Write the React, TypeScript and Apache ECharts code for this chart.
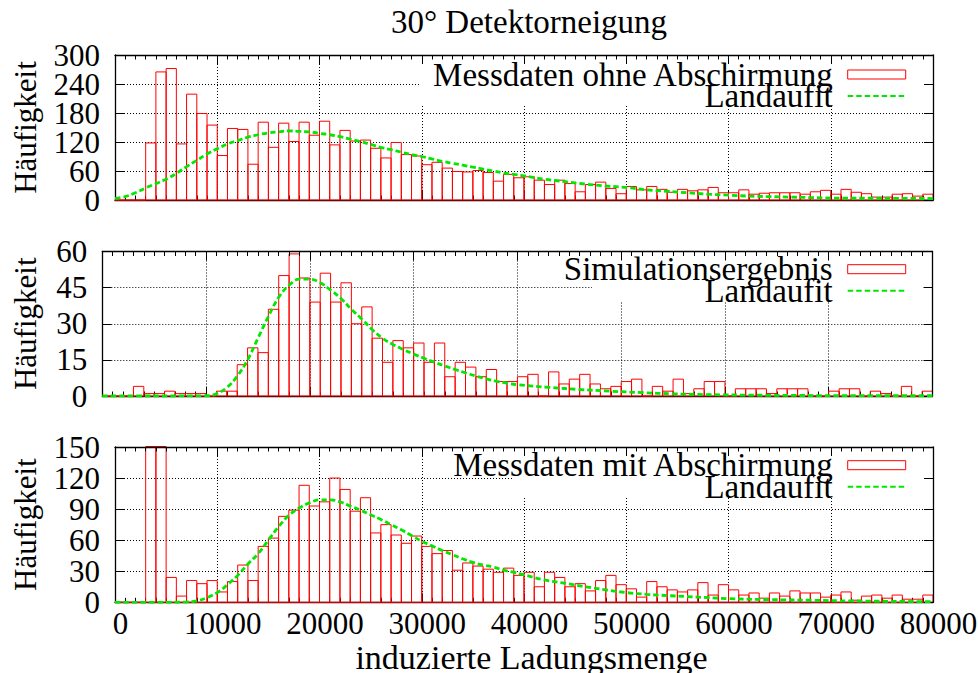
import React, { useEffect, useRef } from 'react';
import * as echarts from 'echarts';

// ---------- data ----------
const BIN_WIDTH = 1000;

// histogram counts, bin i covers [i*1000, (i+1)*1000)
const countsOhne = [
  0, 0, 0, 118, 265, 272, 116, 219, 179, 155,
  92, 148, 146, 74, 161, 109, 159, 121, 161, 134,
  163, 114, 144, 122, 124, 107, 87, 119, 94, 91,
  73, 78, 66, 59, 58, 61, 57, 39, 53, 46,
  48, 41, 32, 41, 34, 17, 32, 37, 24, 13,
  28, 21, 28, 22, 16, 22, 19, 21, 26, 15,
  15, 21, 12, 14, 15, 15, 15, 12, 17, 20,
  12, 22, 16, 13, 6, 6, 12, 13, 8, 12,
];
const countsSim = [
  0, 0, 0, 4, 1, 1, 2, 1, 1, 1,
  0, 2, 2, 13, 20, 18, 36, 50, 59, 49,
  39, 51, 39, 47, 30, 37, 24, 14, 23, 20,
  22, 14, 22, 8, 14, 12, 8, 11, 6, 6,
  8, 9, 0, 10, 5, 7, 9, 5, 3, 4,
  6, 7, 0, 4, 2, 7, 1, 3, 6, 6,
  0, 3, 3, 3, 1, 3, 3, 3, 0, 0,
  2, 3, 3, 0, 2, 1, 0, 4, 0, 2,
];
const countsMit = [
  0, 0, 0, 190, 190, 24, 6, 21, 18, 21,
  10, 20, 36, 21, 54, 62, 83, 89, 113, 93,
  97, 120, 109, 88, 101, 67, 75, 65, 57, 64,
  54, 47, 50, 31, 38, 35, 32, 29, 33, 26,
  29, 15, 29, 24, 15, 18, 11, 21, 26, 17,
  13, 5, 20, 15, 12, 10, 12, 19, 7, 17,
  12, 7, 9, 4, 9, 6, 11, 9, 9, 5,
  7, 10, 2, 6, 7, 4, 7, 3, 3, 7,
];

// Landau fit curves
const fitOhneX = [0, 1000, 2000, 3000, 5000, 6000, 7000, 8000, 9000, 10000, 11000, 12000, 13000, 14000, 15000, 16000, 17000, 18000, 19000, 20000, 21000, 22000, 23000, 24000, 25000, 26000, 27000, 28000, 29000, 30000, 31000, 32000, 33000, 34000, 35000, 36000, 37000, 38000, 39000, 40000, 42000, 44000, 46000, 48000, 50000, 52000, 54000, 56000, 58000, 60000, 62000, 64000, 66000, 68000, 70000, 75000, 80000];
const fitOhneY = [3.5, 7, 15, 25, 43, 55, 69, 82, 95, 106, 116, 123, 130, 135, 139, 141, 143, 142, 141, 138, 135, 131, 126, 121, 115, 109, 104, 99, 94, 90, 85, 80, 76, 72, 68, 64, 60, 56, 53, 50, 43, 38, 33, 29, 26, 21, 18, 15, 12, 10, 8, 7, 6, 5, 4, 3.5, 3];

const fitSimX = [0, 5000, 10000, 11000, 12000, 13000, 14000, 15000, 16000, 17000, 18000, 19000, 20000, 21000, 22000, 23000, 24000, 25000, 26000, 27000, 28000, 29000, 30000, 31000, 32000, 33000, 34000, 35000, 36000, 37000, 38000, 39000, 40000, 43000, 46000, 49000, 52000, 55000, 58000, 64000, 72000, 80000];
const fitSimY = [0, 0, 0.1, 0.9, 3.5, 8.2, 15, 24, 33, 41, 46, 48.5, 48.5, 47, 44, 40.5, 36, 32, 27.6, 24, 21.4, 19.3, 17.4, 15.7, 14, 12.5, 11, 9.6, 8.3, 7.1, 6.1, 5.3, 4.7, 3.6, 2.7, 2, 1.4, 0.9, 0.6, 0.3, 0.15, 0.1];

const fitMitX = [0, 5000, 7000, 8000, 9000, 10000, 11000, 12000, 13000, 14000, 15000, 16000, 17000, 18000, 19000, 20000, 21000, 22000, 23000, 24000, 25000, 26000, 27000, 28000, 29000, 30000, 31000, 32000, 33000, 34000, 35000, 36000, 37000, 38000, 39000, 40000, 42000, 44000, 46000, 48000, 50000, 52000, 54000, 56000, 58000, 60000, 64000, 68000, 72000, 80000];
const fitMitY = [0, 0, 0.3, 1.3, 4.5, 9.4, 17, 26, 37, 47, 60, 73, 84, 91, 96, 99, 99, 97, 93, 89, 84.5, 80, 75, 70, 64.5, 59, 54.5, 50, 46, 42, 38.5, 36, 34, 31, 29, 26.5, 21.6, 18.4, 15, 12, 9.4, 7.7, 6.5, 5.5, 4.5, 3.5, 2.6, 2, 1.3, 0.6];

const panelNames = ['Messdaten ohne Abschirmung', 'Simulationsergebnis', 'Messdaten mit Abschirmung'];
const fitName = 'Landaufit';
const yMax = [300, 60, 150];
const yInterval = [60, 15, 30];
const xMin = 0;
const xMax = 80000;
const xInterval = 10000;
const titleText = '30° Detektorneigung';
const xName = 'induzierte Ladungsmenge';
const yName = 'Häufigkeit';

// ---------- styling ----------
const FONT = '"Liberation Serif", "Times New Roman", serif';
const RED = '#ff0000';
const GREEN = '#00e800';

const grids = [
  { left: 115, top: 55, width: 818, height: 145 },
  { left: 102.3, top: 251.5, width: 830.2, height: 144.5 },
  { left: 115, top: 447, width: 818, height: 155.3 },
];
const legendTops = [58, 252.7, 448.7];
const keyBoxes = [
  { x: 420, y: 56, width: 503, height: 49 },
  { x: 592, y: 252.5, width: 331, height: 49.5 },
  { x: 512, y: 448, width: 411, height: 50 },
];
const yNameX = 25;

const toBins = (counts: number[]) => counts.map((c, i) => [i * BIN_WIDTH, (i + 1) * BIN_WIDTH, c]);
const toPts = (xs: number[], ys: number[]) => xs.map((x, i) => [x, ys[i]]);

const dotted = { color: '#000', width: 1, type: [1, 2] as number[] };
const tickLabelStyle = { color: '#000', fontFamily: FONT, fontSize: 31 };

function xAxisPair(gi: number, labels: boolean) {
  const base: any = {
    type: 'value',
    gridIndex: gi,
    min: xMin,
    max: xMax,
    interval: xInterval,
    axisLine: { show: true, onZero: false, lineStyle: { color: '#000', width: 1.3 } },
    axisTick: { show: true, inside: true, length: 9, lineStyle: { color: '#000', width: 1 } },
    minorTick: { show: true, splitNumber: 10, length: 4.5, lineStyle: { color: '#000', width: 1 } },
    minorSplitLine: { show: false },
  };
  return [
    {
      ...base,
      position: 'bottom',
      z: 0,
      splitLine: { show: true, lineStyle: dotted },
      axisLabel: {
        show: labels,
        ...tickLabelStyle,
        margin: 6,
        padding: [0, 0, 0, 11],
        showMinLabel: true,
        showMaxLabel: true,
        formatter: (v: number) => String(v),
      },
      name: labels ? xName : '',
      nameLocation: 'middle',
      nameGap: 33,
      nameTextStyle: { color: '#000', fontFamily: FONT, fontSize: 34, padding: [0, 0, 0, 15] },
    },
    {
      ...base,
      position: 'top',
      z: 3,
      splitLine: { show: false },
      axisLabel: { show: false },
    },
  ];
}

// left axis (inner labels + grid), right mirror axis, left axis carrying only the end labels
function yAxisTriple(gi: number) {
  const base: any = {
    type: 'value',
    gridIndex: gi,
    min: 0,
    max: yMax[gi],
    axisLine: { show: true, onZero: false, lineStyle: { color: '#000', width: 1.3 } },
    axisTick: { show: true, inside: true, length: 9, lineStyle: { color: '#000', width: 1 } },
  };
  return [
    {
      ...base,
      interval: yInterval[gi],
      position: 'left',
      z: 0,
      splitLine: { show: true, lineStyle: dotted },
      axisLabel: {
        show: true,
        ...tickLabelStyle,
        margin: 15,
        showMinLabel: false,
        showMaxLabel: false,
        formatter: (v: number) => String(v),
      },
    },
    {
      ...base,
      interval: yInterval[gi],
      position: 'right',
      z: 3,
      splitLine: { show: false },
      axisLabel: { show: false },
    },
    {
      ...base,
      interval: yMax[gi],
      position: 'left',
      z: 0,
      axisLine: { show: false },
      axisTick: { show: false },
      splitLine: { show: false },
      axisLabel: {
        show: true,
        ...tickLabelStyle,
        margin: 15,
        showMinLabel: true,
        showMaxLabel: true,
        formatter: (v: number) => String(v),
      },
    },
  ];
}

const renderBox = (params: any, api: any) => {
  const a = api.coord([api.value(0), 0]);
  const b = api.coord([api.value(1), api.value(2)]);
  const cs = params.coordSys;
  const shape = echarts.graphic.clipRectByRect(
    { x: a[0], y: b[1], width: b[0] - a[0], height: a[1] - b[1] },
    { x: cs.x, y: cs.y - 0.5, width: cs.width, height: cs.height + 1 }
  );
  if (!shape) return null;
  return {
    type: 'rect',
    shape,
    style: { fill: 'none', stroke: RED, lineWidth: 1 },
  };
};

function legendFor(i: number) {
  return {
    orient: 'vertical',
    align: 'right',
    right: 71.3,
    top: legendTops[i],
    padding: 0,
    itemGap: -11.5,
    itemWidth: 58,
    itemHeight: 9,
    selectedMode: false,
    z: 6,
    textStyle: {
      fontFamily: FONT,
      fontSize: 33,
      color: '#000',
      padding: [0, 10, 0, 0],
    },
    data: [
      {
        name: panelNames[i],
        icon: 'rect',
        itemStyle: { color: 'rgba(255,255,255,0)', borderColor: RED, borderWidth: 1 },
      },
      {
        name: fitName,
        itemStyle: { color: 'rgba(0,0,0,0)', borderColor: 'rgba(0,0,0,0)', borderWidth: 0, opacity: 0 },
      },
    ],
  };
}

export default function App() {
  const ref = useRef<HTMLDivElement>(null);
  useEffect(() => {
    if (!ref.current) return;
    const chart = echarts.init(ref.current, undefined, { renderer: 'svg' });
    const countsAll = [countsOhne, countsSim, countsMit];
    const fitsAll = [toPts(fitOhneX, fitOhneY), toPts(fitSimX, fitSimY), toPts(fitMitX, fitMitY)];
    const series: any[] = [];
    countsAll.forEach((counts, i) => {
      series.push({
        type: 'custom',
        name: panelNames[i],
        xAxisIndex: i * 2,
        yAxisIndex: i * 3,
        renderItem: renderBox,
        encode: { x: [0, 1], y: 2 },
        data: toBins(counts),
        itemStyle: { color: RED },
        z: 2,
      });
      series.push({
        type: 'line',
        name: fitName,
        xAxisIndex: i * 2,
        yAxisIndex: i * 3,
        data: fitsAll[i],
        smooth: 0.4,
        symbol: 'none',
        showSymbol: false,
        lineStyle: { color: GREEN, width: 2.8, type: [5.5, 3] },
        itemStyle: { color: GREEN },
        z: 3,
      });
    });
    const yNames = grids.map((g) => ({
      type: 'text',
      x: yNameX,
      y: g.top + g.height / 2,
      rotation: Math.PI / 2,
      z: 5,
      style: {
        text: yName,
        fontFamily: FONT,
        fontSize: 31,
        fill: '#000',
        align: 'center',
        verticalAlign: 'middle',
      },
    }));
    const option: any = {
      animation: false,
      backgroundColor: '#fff',
      textStyle: { fontFamily: FONT },
      title: {
        text: titleText,
        left: 524,
        top: 0,
        textAlign: 'center',
        textStyle: { fontFamily: FONT, fontSize: 33, fontWeight: 'normal', color: '#000' },
      },
      grid: grids.map((g) => ({ ...g, containLabel: false, outerBoundsMode: 'none' })),
      xAxis: [...xAxisPair(0, false), ...xAxisPair(1, false), ...xAxisPair(2, true)],
      yAxis: [...yAxisTriple(0), ...yAxisTriple(1), ...yAxisTriple(2)],
      legend: [legendFor(0), legendFor(1), legendFor(2)],
      graphic: {
        elements: [
          ...keyBoxes.map((b) => ({
            type: 'rect',
            shape: b,
            style: { fill: '#fff' },
            z: 1,
            silent: true,
          })),
          ...yNames,
        ],
      },
      series,
    };
    chart.setOption(option);
    return () => chart.dispose();
  }, []);
  return (
    <div
      ref={ref}
      style={{ position: 'absolute', left: 0, top: 0, width: 978, height: 673 }}
    />
  );
}
